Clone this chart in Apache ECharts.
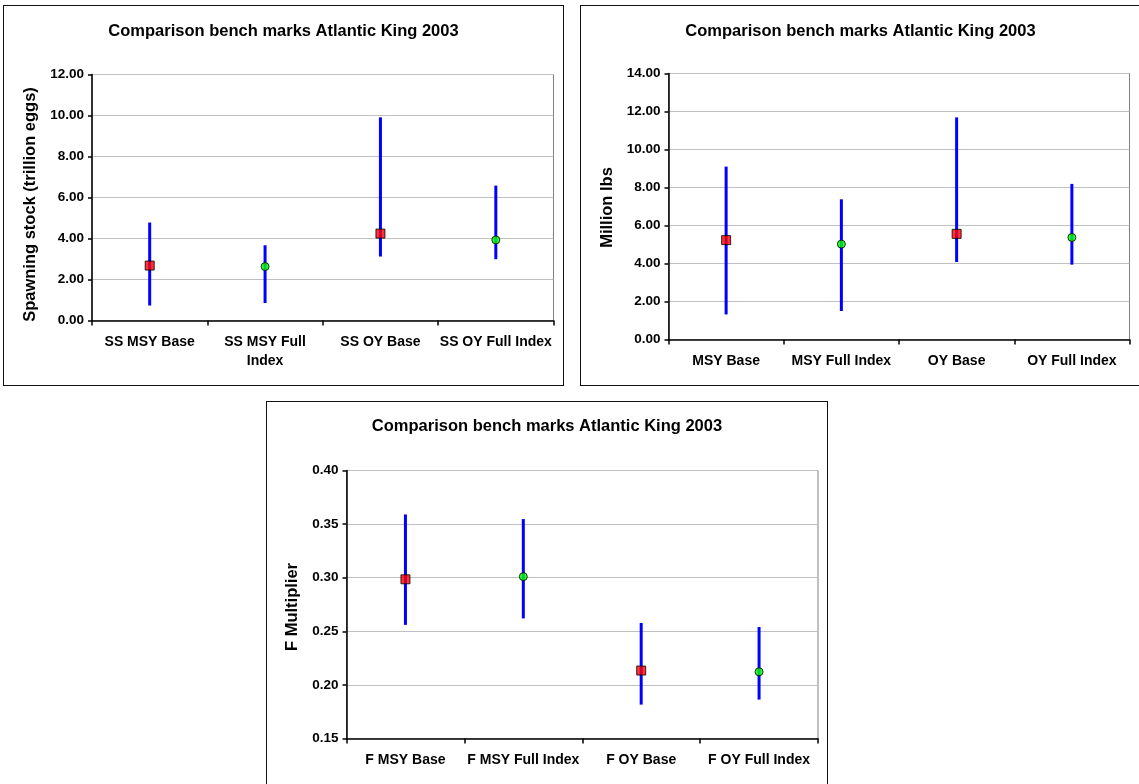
<!DOCTYPE html>
<html>
<head>
<meta charset="utf-8">
<script src="https://cdn.jsdelivr.net/npm/echarts@6.0.0/dist/echarts.min.js"></script>
<style>
  body { margin: 0; background: #fff; }
  .box { position: absolute; box-sizing: border-box; border: 1.5px solid #111; background: #fff; }
</style>
</head>
<body>
<div id="chart-ss" class="box" style="left:3px;top:5px;width:561px;height:381px;"></div>
<div id="chart-lbs" class="box" style="left:580px;top:5px;width:561px;height:381px;"></div>
<div id="chart-f" class="box" style="left:266px;top:401px;width:562px;height:386px;"></div>
<script>
const title = 'Comparison bench marks Atlantic King 2003'

// spawning stock (trillion eggs)
const ssCategories = ['SS MSY Base', 'SS MSY Full\nIndex', 'SS OY Base', 'SS OY Full Index']
const ssPoint = [2.68, 2.63, 4.24, 3.93]
const ssLow = [0.73, 0.85, 3.12, 2.99]
const ssHigh = [4.78, 3.67, 9.91, 6.58]

// yield (million lbs)
const lbsCategories = ['MSY Base', 'MSY Full Index', 'OY Base', 'OY Full Index']
const lbsPoint = [5.23, 5.02, 5.56, 5.37]
const lbsLow = [1.32, 1.50, 4.08, 3.94]
const lbsHigh = [9.10, 7.38, 11.69, 8.19]

// F multiplier
const fCategories = ['F MSY Base', 'F MSY Full Index', 'F OY Base', 'F OY Full Index']
const fPoint = [0.2985, 0.301, 0.2134, 0.2122]
const fLow = [0.256, 0.262, 0.1816, 0.1863]
const fHigh = [0.359, 0.3547, 0.2578, 0.254]

const font = "'Liberation Sans', Arial, sans-serif"

function makeOption(cfg) {
  return {
    animation: false,
    title: {
      text: title,
      left: 'center',
      top: cfg.titleTop,
      textStyle: { fontFamily: font, fontSize: 16.5, fontWeight: 'bold', color: '#000' }
    },
    grid: {
      left: cfg.grid[0], top: cfg.grid[1], right: cfg.grid[2], bottom: cfg.grid[3],
      show: true, borderColor: '#808080', borderWidth: 1, backgroundColor: '#fff'
    },
    xAxis: {
      type: 'category',
      data: cfg.categories,
      boundaryGap: true,
      axisLine: { lineStyle: { color: '#000', width: 1.5 } },
      axisTick: { show: true, alignWithLabel: false, length: 5, lineStyle: { color: '#000', width: 1.5 } },
      axisLabel: { fontFamily: font, fontSize: 14, fontWeight: 'bold', color: '#000', margin: 12, lineHeight: 19, interval: 0 },
      splitLine: { show: false }
    },
    yAxis: {
      type: 'value',
      min: cfg.min, max: cfg.max, interval: cfg.interval,
      name: cfg.yName,
      nameLocation: 'middle',
      nameGap: cfg.nameGap,
      nameTextStyle: {
        fontFamily: font, fontSize: 16.5, fontWeight: 'bold', color: '#000',
        padding: cfg.namePad
      },
      axisLine: { show: true, lineStyle: { color: '#000', width: 1.5 } },
      axisTick: { show: true, length: 4, lineStyle: { color: '#000', width: 1.5 } },
      axisLabel: {
        fontFamily: font, fontSize: 13.5, fontWeight: 'bold', color: '#000', margin: 8,
        formatter: v => v.toFixed(2)
      },
      splitLine: { show: true, lineStyle: { color: '#c0c0c0', width: 1 } }
    },
    series: [
      {
        type: 'custom',
        renderItem: function (params, api) {
          const lo = api.coord([api.value(0), api.value(1)])
          const hi = api.coord([api.value(0), api.value(2)])
          return {
            type: 'line',
            shape: { x1: lo[0], y1: lo[1], x2: hi[0], y2: hi[1] },
            style: { stroke: '#0000ff', lineWidth: 3 }
          }
        },
        encode: { x: 0, y: [1, 2] },
        data: cfg.low.map((lo, i) => [i, lo, cfg.high[i]]),
        z: 2
      },
      {
        type: 'scatter',
        z: 3,
        data: cfg.point.map((v, i) => ({
          value: [i, v],
          symbol: i % 2 ? 'circle' : 'rect',
          symbolSize: i % 2 ? 8 : 9,
          itemStyle: { color: i % 2 ? '#00ff00' : '#ff0000', borderColor: '#000', borderWidth: 1 }
        }))
      }
    ]
  }
}

echarts.init(document.getElementById('chart-ss')).setOption(makeOption({
  categories: ssCategories, point: ssPoint, low: ssLow, high: ssHigh,
  min: 0, max: 12, interval: 2,
  yName: 'Spawning stock (trillion eggs)', nameGap: 49, namePad: [0, 14, 0, 0],
  titleTop: 12, grid: [88, 68.5, 9.5, 64.5]
}))

echarts.init(document.getElementById('chart-lbs')).setOption(makeOption({
  categories: lbsCategories, point: lbsPoint, low: lbsLow, high: lbsHigh,
  min: 0, max: 14, interval: 2,
  yName: 'Million lbs', nameGap: 50, namePad: [0, 2, 0, 0],
  titleTop: 12, grid: [87.5, 67.5, 10.5, 45.5]
}))

echarts.init(document.getElementById('chart-f')).setOption(makeOption({
  categories: fCategories, point: fPoint, low: fLow, high: fHigh,
  min: 0.15, max: 0.40, interval: 0.05,
  yName: 'F Multiplier', nameGap: 43, namePad: [0, 5, 0, 0],
  titleTop: 11, grid: [79.5, 68.5, 9, 47.5]
}))
</script>
</body>
</html>
